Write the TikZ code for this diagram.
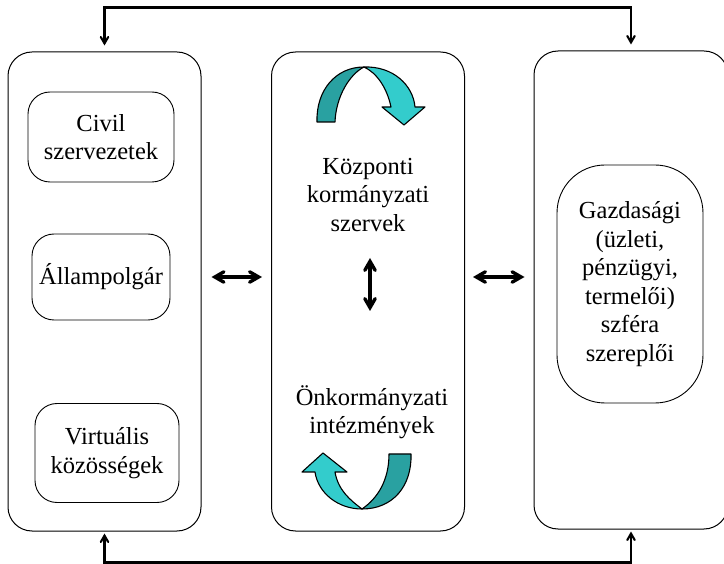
\documentclass[tikz,border=0pt]{standalone}
\usepackage{fontspec}
\setmainfont{Liberation Serif}
\usetikzlibrary{positioning,arrows}
\definecolor{darkteal}{RGB}{41,161,161}
\definecolor{lightteal}{RGB}{51,204,204}

\begin{document}
\begin{tikzpicture}[x=1pt,y=-1pt,>=angle 60,
    every node/.style={align=center,inner sep=0pt,font=\fontsize{24.5}{28.5}\selectfont},
    bigbox/.style={draw=black,line width=1pt,rounded corners=24pt,minimum width=193pt,minimum height=479pt},
    smallbox/.style={draw=black,line width=0.9pt,rounded corners=22pt},
    feedline/.style={draw=black,line width=2.1pt,<->},
    twoway/.style={draw=black,line width=3.4pt,<->},
    twist/.style={draw=black,line width=1.1pt,line join=round}]
    \useasboundingbox (0,0) rectangle (724,564);

    %big boxes
    \node [bigbox] (left) at (104.5,291.5) {};
    \node [bigbox] (mid) at (368,291.5) {};
    \node [bigbox,minimum width=194pt,minimum height=478pt] (right) at (631,290) {};

    %left column
    \node [smallbox,minimum width=146pt,minimum height=90pt] (civil) at (101,137) {Civil\\szervezetek};
    \node [smallbox,minimum width=138pt,minimum height=86pt] (allam) at (101,277) {Állampolgár};
    \node [smallbox,minimum width=144pt,minimum height=99pt] (virt) at (107,453) {Virtuális\\közösségek};

    %middle column
    \node (kozp) at (368,195) {Központi\\kormányzati\\szervek};
    \node (onk) at (372,412) {Önkormányzati\\intézmények};
    \coordinate (vtop) at (370,258);
    \coordinate (vbot) at (370,311);

    %right column
    \node [smallbox,rounded corners=48pt,minimum width=146pt,minimum height=238pt] (gazd) at (630,284)
        {Gazdasági\\(üzleti,\\pénzügyi,\\termelői)\\szféra\\szereplői};

    %curved arrow, top
    \filldraw [twist,fill=darkteal] (317,122) .. controls (316,90) and (336,67) .. (364,67)
        .. controls (350,74) and (336,96) .. (335,122) -- cycle;
    \filldraw [twist,fill=lightteal] (364,67) .. controls (393,66) and (413,85) .. (415,107)
        -- (425,107) -- (404,125) -- (382,107) -- (391,107)
        .. controls (387,88) and (377,73) .. (364,67) -- cycle;

    %curved arrow, bottom
    \filldraw [twist,fill=lightteal] (315,472) .. controls (318,493) and (338,509) .. (362,509)
        .. controls (350,500) and (338,490) .. (335,472) -- (347,472) -- (323,453) -- (302,472) -- cycle;
    \filldraw [twist,fill=darkteal] (362,509) .. controls (393,509) and (412,486) .. (411,454)
        -- (389,454) .. controls (389,480) and (378,498) .. (362,509) -- cycle;

    %edges
    \draw [feedline,shorten <=6pt,shorten >=6pt] (left.north) -- ++(0,-44) -| (right.north);
    \draw [feedline,shorten <=2pt,shorten >=2pt] (left.south) -- ++(0,31) -| (right.south);
    \draw [twoway,shorten <=10pt,shorten >=9pt] (left.east |- allam) -- (mid.west |- allam);
    \draw [twoway,shorten <=8pt,shorten >=9pt] (mid.east |- allam) -- (right.west |- allam);
    \draw [twoway] (vtop) -- (vbot);
\end{tikzpicture}
\end{document}
